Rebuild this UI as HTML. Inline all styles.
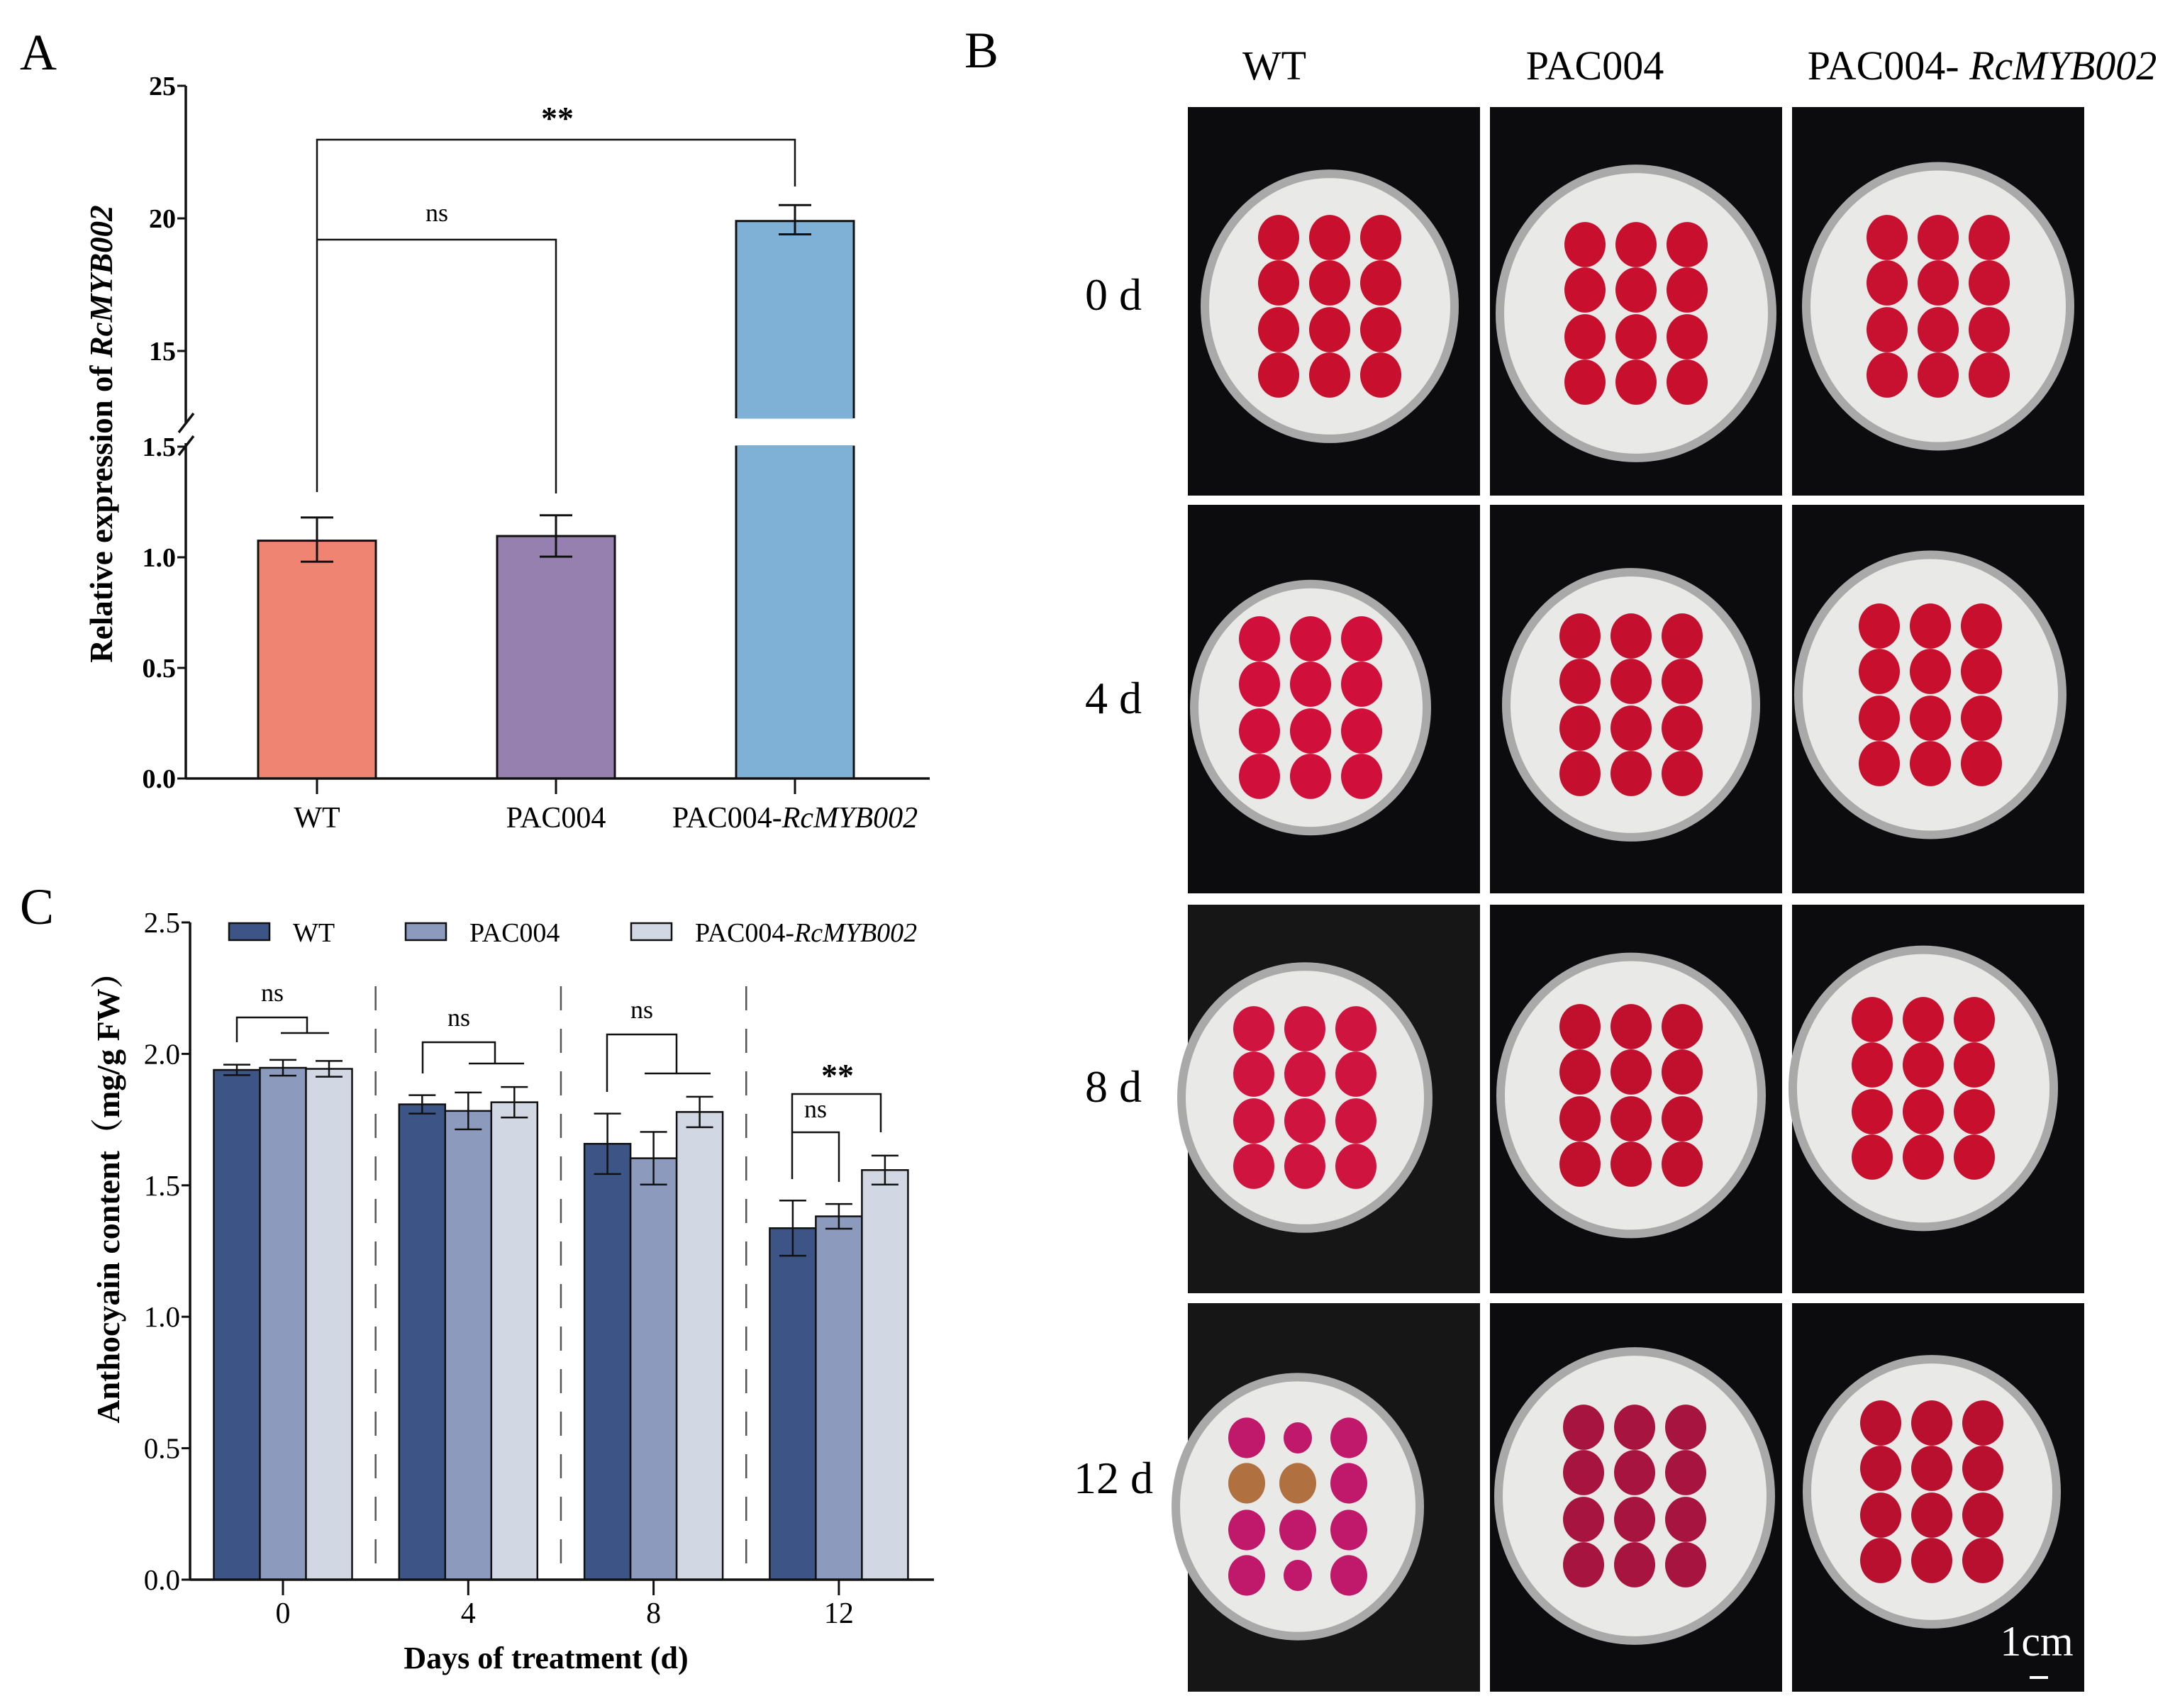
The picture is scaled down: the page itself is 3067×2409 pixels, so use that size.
<!DOCTYPE html>
<html>
<head>
<meta charset="utf-8">
<style>
html,body{margin:0;padding:0;background:#fff;}
svg{display:block;font-family:"Liberation Serif","Noto Serif CJK SC",serif;}
</style>
</head>
<body>
<svg id="fig" width="3067" height="2409" viewBox="0 0 3067 2409" xmlns="http://www.w3.org/2000/svg">
  <rect width="3067" height="2409" fill="#fff"/>
  <text x="28" y="98" font-size="72">A</text>
  <text x="1360" y="95" font-size="72">B</text>
  <text x="28" y="1303" font-size="72">C</text>
  <g id="chartA"></g>
  <g id="chartC"></g>
  <g id="photos"></g>
</svg>
<script>
// ---------- Panel A data ----------
const aCategories = ["WT", "PAC004", "PAC004-RcMYB002"];
const aValues = [1.075, 1.096, 19.9];
const aErrLow = [0.98, 1.003, 19.4];
const aErrHigh = [1.18, 1.19, 20.5];
const aLowTicks = [0.0, 0.5, 1.0, 1.5];
const aLowTickLabels = ["0.0", "0.5", "1.0", "1.5"];
const aHighTicks = [15, 20, 25];
const aHighTickLabels = ["15", "20", "25"];

// ---------- Panel C data ----------
const cDays = ["0", "4", "8", "12"];
const cSeriesNames = ["WT", "PAC004", "PAC004-RcMYB002"];
const cWT = [1.939, 1.808, 1.658, 1.337];
const cPAC = [1.947, 1.783, 1.603, 1.382];
const cOE = [1.943, 1.816, 1.779, 1.558];
const cWTerr = [0.02, 0.035, 0.115, 0.105];
const cPACerr = [0.03, 0.07, 0.10, 0.047];
const cOEerr = [0.03, 0.058, 0.058, 0.055];
const cTicks = [0, 0.5, 1.0, 1.5, 2.0, 2.5];
const cTickLabels = ["0.0", "0.5", "1.0", "1.5", "2.0", "2.5"];

const NS = "http://www.w3.org/2000/svg";
function mk(parent, tag, attrs, text) {
  const e = document.createElementNS(NS, tag);
  for (const k in attrs) e.setAttribute(k, attrs[k]);
  if (text !== undefined) e.textContent = text;
  parent.appendChild(e);
  return e;
}

// ================= Panel A =================
(function(){
  const g = document.getElementById('chartA');
  const axX = 262, y0 = 1098, lowPer = 312;
  const yLow = v => y0 - v * lowPer;
  const yHigh = v => 308 - (v - 20) * 37.4;
  const yA = v => v <= 1.5 ? yLow(v) : yHigh(v);
  const xCenter = i => 447 + i * 337;
  const bw = 166;
  const colors = ["#ef8472", "#9580b0", "#7fb0d6"];
  const breakTop = yHigh(12.5);

  aValues.forEach((v, i) => {
    const cx = xCenter(i);
    if (v <= 1.5) {
      const r = mk(g, 'rect', {x: cx - bw/2, y: yA(v), width: bw, height: y0 - yA(v), fill: colors[i], stroke: '#111', 'stroke-width': 3});
      
      
    } else {
      const r1 = mk(g, 'rect', {x: cx - bw/2, y: yLow(1.5), width: bw, height: y0 - yLow(1.5), fill: colors[i], stroke: '#111', 'stroke-width': 3});
      
      
      const r2 = mk(g, 'rect', {x: cx - bw/2, y: yHigh(v), width: bw, height: breakTop - yHigh(v), fill: colors[i], stroke: '#111', 'stroke-width': 3});
      
      
      mk(g, 'rect', {x: cx - bw/2 + 1.5, y: breakTop - 3, width: bw - 3, height: 5, fill: colors[i]});
      mk(g, 'rect', {x: cx - bw/2 + 1.5, y: yLow(1.5) - 2, width: bw - 3, height: 5, fill: colors[i]});
    }
    const eg = mk(g, 'g', {stroke: '#111', 'stroke-width': 3});
    
    
    const yl = yA(aErrLow[i]), yh = yA(aErrHigh[i]);
    mk(eg, 'line', {x1: cx, y1: yl, x2: cx, y2: yh});
    mk(eg, 'line', {x1: cx - 23, y1: yl, x2: cx + 23, y2: yl});
    mk(eg, 'line', {x1: cx - 23, y1: yh, x2: cx + 23, y2: yh});
    mk(g, 'line', {x1: cx, y1: y0, x2: cx, y2: y0 + 22, stroke: '#111', 'stroke-width': 3});
    const lab = mk(g, 'text', {x: cx, y: 1167, 'font-size': 42, 'text-anchor': 'middle'});
    
    
    if (aCategories[i].indexOf('-') > 0) {
      const parts = aCategories[i].split('-');
      mk(lab, 'tspan', {}, parts[0] + '-');
      mk(lab, 'tspan', {'font-style': 'italic'}, parts[1]);
    } else lab.textContent = aCategories[i];
  });

  const ax = mk(g, 'g', {stroke: '#111', 'stroke-width': 3.5, fill: 'none'});
  
  
  mk(ax, 'line', {x1: axX, y1: yHigh(25), x2: axX, y2: 598});
  mk(ax, 'line', {x1: axX, y1: 625, x2: axX, y2: y0});
  mk(ax, 'line', {x1: 252, y1: 610, x2: 273, y2: 583});
  mk(ax, 'line', {x1: 252, y1: 642, x2: 273, y2: 615});
  const xax = mk(g, 'line', {x1: axX, y1: y0, x2: 1311, y2: y0, stroke: '#111', 'stroke-width': 3.5});
  
  

  aLowTicks.forEach((t, i) => {
    mk(g, 'line', {x1: axX - 12, y1: yLow(t), x2: axX, y2: yLow(t), stroke: '#111', 'stroke-width': 3});
    const tl = mk(g, 'text', {x: axX - 14, y: yLow(t) + 13, 'font-size': 38, 'font-weight': 'bold', 'text-anchor': 'end'}, aLowTickLabels[i]);
    
    
  });
  aHighTicks.forEach((t, i) => {
    mk(g, 'line', {x1: axX - 12, y1: yHigh(t), x2: axX, y2: yHigh(t), stroke: '#111', 'stroke-width': 3});
    const tl = mk(g, 'text', {x: axX - 14, y: yHigh(t) + 13, 'font-size': 38, 'font-weight': 'bold', 'text-anchor': 'end'}, aHighTickLabels[i]);
    
    
  });

  const yt = mk(g, 'text', {x: 0, y: 0, 'font-size': 45, 'font-weight': 'bold', 'text-anchor': 'middle', transform: 'translate(158,612) rotate(-90)'});
  
  
  mk(yt, 'tspan', {}, 'Relative expression of ');
  mk(yt, 'tspan', {'font-style': 'italic'}, 'RcMYB002');

  const sb = mk(g, 'g', {stroke: '#111', 'stroke-width': 2.5, fill: 'none'});
  
  
  mk(sb, 'polyline', {points: `${xCenter(0)},694 ${xCenter(0)},197 ${xCenter(2)},197 ${xCenter(2)},263`});
  mk(sb, 'polyline', {points: `${xCenter(0)},338 ${xCenter(1)},338 ${xCenter(1)},696`});
  const s1 = mk(g, 'text', {x: 786, y: 182, 'font-size': 46, 'font-weight': 'bold', 'text-anchor': 'middle'}, '**');
  
  
  const s2 = mk(g, 'text', {x: 616, y: 312, 'font-size': 36, 'text-anchor': 'middle'}, 'ns');
  
  
})();

// ================= Panel C =================
(function(){
  const g = document.getElementById('chartC');
  const axX = 268, y0 = 2228, per = 370.8;
  const yC = v => y0 - v * per;
  const gx = i => 399 + i * 261.3;
  const bw = 65;
  const colors = ["#3d5487", "#8c9bbd", "#d1d7e3"];
  const series = [cWT, cPAC, cOE];
  const errs = [cWTerr, cPACerr, cOEerr];

  for (let i = 0; i < cDays.length - 1; i++) {
    const sx = (gx(i) + gx(i + 1)) / 2;
    const d = mk(g, 'line', {x1: sx, y1: 1391, x2: sx, y2: 2205, stroke: '#555', 'stroke-width': 2.5, 'stroke-dasharray': '34 26'});
    
    
  }

  cDays.forEach((day, i) => {
    series.forEach((s, k) => {
      const bx = gx(i) + (k - 1) * bw - bw / 2;
      const r = mk(g, 'rect', {x: bx, y: yC(s[i]), width: bw, height: y0 - yC(s[i]), fill: colors[k], stroke: '#111', 'stroke-width': 2.5});
      
      
      const cx = bx + bw / 2;
      const eg = mk(g, 'g', {stroke: '#111', 'stroke-width': 2.5});
      
      
      const yl = yC(s[i] - errs[k][i]), yh = yC(s[i] + errs[k][i]);
      mk(eg, 'line', {x1: cx, y1: yl, x2: cx, y2: yh});
      mk(eg, 'line', {x1: cx - 19, y1: yl, x2: cx + 19, y2: yl});
      mk(eg, 'line', {x1: cx - 19, y1: yh, x2: cx + 19, y2: yh});
    });
    mk(g, 'line', {x1: gx(i), y1: y0, x2: gx(i), y2: y0 + 22, stroke: '#111', 'stroke-width': 3});
    const tl = mk(g, 'text', {x: gx(i), y: 2289, 'font-size': 42, 'text-anchor': 'middle'}, day);
    
    
  });

  const ya = mk(g, 'line', {x1: axX, y1: yC(2.5), x2: axX, y2: y0, stroke: '#111', 'stroke-width': 3.5});
  
  
  const xa = mk(g, 'line', {x1: axX, y1: y0, x2: 1317, y2: y0, stroke: '#111', 'stroke-width': 3.5});
  
  
  cTicks.forEach((t, i) => {
    mk(g, 'line', {x1: axX - 12, y1: yC(t), x2: axX, y2: yC(t), stroke: '#111', 'stroke-width': 3});
    const tl = mk(g, 'text', {x: axX - 14, y: yC(t) + 14, 'font-size': 41, 'text-anchor': 'end'}, cTickLabels[i]);
    
    
  });

  const yt = mk(g, 'text', {x: 0, y: 0, 'font-size': 46, 'font-weight': 'bold', 'text-anchor': 'middle', transform: 'translate(168,1678) rotate(-90)'}, 'Anthocyain content（mg/g FW）');
  
  
  const xt = mk(g, 'text', {x: 770, y: 2353, 'font-size': 44, 'font-weight': 'bold', 'text-anchor': 'middle'}, 'Days of treatment (d)');
  
  

  const legX = [323, 572, 890];
  cSeriesNames.forEach((n, k) => {
    const lg = mk(g, 'g', {});
    
    
    mk(lg, 'rect', {x: legX[k], y: 1302, width: 57, height: 24, fill: colors[k], stroke: '#111', 'stroke-width': 2.5});
    const t = mk(lg, 'text', {x: legX[k] + 90, y: 1328, 'font-size': 38});
    if (n.indexOf('-') > 0) {
      const p = n.split('-');
      mk(t, 'tspan', {}, p[0] + '-');
      mk(t, 'tspan', {'font-style': 'italic'}, p[1]);
    } else t.textContent = n;
  });

  const sb = mk(g, 'g', {stroke: '#111', 'stroke-width': 2.5, fill: 'none'});
  
  
  const brk = [
    {l: 334, r: 433, y: 1435, ly: 1470, hy: 1457, hl: 396, hr: 464, tx: 384, ty: 1412},
    {l: 596, r: 698, y: 1470, ly: 1514, hy: 1500, hl: 661, hr: 739, tx: 647, ty: 1447},
    {l: 856, r: 954, y: 1459, ly: 1540, hy: 1514, hl: 909, hr: 1002, tx: 905, ty: 1436}
  ];
  brk.forEach(b => {
    mk(sb, 'polyline', {points: `${b.l},${b.ly} ${b.l},${b.y} ${b.r},${b.y} ${b.r},${b.hy}`});
    mk(sb, 'line', {x1: b.hl, y1: b.hy, x2: b.hr, y2: b.hy});
    const t = mk(g, 'text', {x: b.tx, y: b.ty, 'font-size': 36, 'text-anchor': 'middle'}, 'ns');
    
    
  });
  mk(sb, 'polyline', {points: `1117,1663 1117,1543 1242,1543 1242,1597`});
  mk(sb, 'polyline', {points: `1117,1597 1183,1597 1183,1667`});
  const st = mk(g, 'text', {x: 1181, y: 1532, 'font-size': 46, 'font-weight': 'bold', 'text-anchor': 'middle'}, '**');
  
  
  const ns4 = mk(g, 'text', {x: 1150, y: 1576, 'font-size': 36, 'text-anchor': 'middle'}, 'ns');
  
  
})();

// ================= Panel B photos =================
(function(){
  const g = document.getElementById('photos');
  const colX = [1675, 2101, 2527];
  const rowY = [151, 712, 1276, 1838];
  const cw = 412, ch = 548;
  const dishes = [
    [[1875,432,182],[2307,442,198],[2733,432,192]],
    [[1848,998,170],[2300,994,182],[2722,980,192]],
    [[1840,1548,180],[2300,1545,190],[2712,1535,190]],
    [[1830,2125,178],[2305,2110,198],[2724,2104,182]]
  ];
  const petalCols = [
    ["#c8102e", "#c8102e", "#c81030"],
    ["#d0103a", "#c4102e", "#c8102e"],
    ["#cf1440", "#c0102e", "#c8102e"],
    ["#c01a5a", "#a81440", "#b8102e"]
  ];
  const dx = [-72, 0, 72], dy = [-97, -33, 33, 97];
  rowY.forEach((ry, r) => {
    colX.forEach((cx, c) => {
      const cell = mk(g, 'g', {});
      
      
      mk(cell, 'rect', {x: cx, y: ry, width: cw, height: ch, fill: r >= 2 && c === 0 ? '#161616' : '#0c0c0e'});
      const [dcx, dcy, rad] = dishes[r][c];
      mk(cell, 'ellipse', {cx: dcx, cy: dcy, rx: rad, ry: rad * 1.06, fill: '#a9a9a9'});
      mk(cell, 'ellipse', {cx: dcx, cy: dcy, rx: rad - 12, ry: rad * 1.06 - 12, fill: '#e9e9e7'});
      for (let j = 0; j < 4; j++) for (let i = 0; i < 3; i++) {
        let col = petalCols[r][c];
        let pr = 29;
        if (r === 3 && c === 0) {
          col = (j === 1 && i < 2) ? "#b07040" : "#c0186a";
          pr = (j === 0 && i === 1) || (j === 3 && i === 1) ? 20 : 26;
        }
        mk(cell, 'ellipse', {cx: dcx + dx[i], cy: dcy + dy[j], rx: pr, ry: pr * 1.1, fill: col});
      }
    });
  });
  const heads = [["WT", 1797], ["PAC004", 2249]];
  heads.forEach(h => {
    const t = mk(g, 'text', {x: h[1], y: 112, 'font-size': 58, 'text-anchor': 'middle'}, h[0]);
    
    
  });
  const h3 = mk(g, 'text', {x: 2795, y: 112, 'font-size': 58, 'text-anchor': 'middle'});
  
  
  mk(h3, 'tspan', {}, 'PAC004- ');
  mk(h3, 'tspan', {'font-style': 'italic'}, 'RcMYB002');
  const rl = [["0 d", 437], ["4 d", 1006], ["8 d", 1554], ["12 d", 2106]];
  rl.forEach(l => {
    const t = mk(g, 'text', {x: 1570, y: l[1], 'font-size': 64, 'text-anchor': 'middle'}, l[0]);
    
    
  });
  const sc = mk(g, 'text', {x: 2872, y: 2335, 'font-size': 60, fill: '#fff', 'text-anchor': 'middle'}, '1cm');
  
  
  const sl = mk(g, 'line', {x1: 2862, y1: 2366, x2: 2888, y2: 2366, stroke: '#fff', 'stroke-width': 4});
  
  
})();
</script>
</body>
</html>
